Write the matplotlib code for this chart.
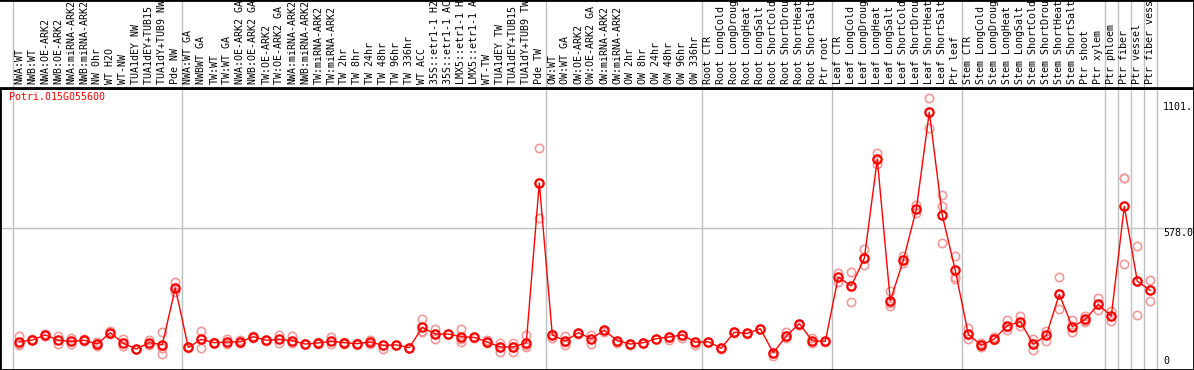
import matplotlib
matplotlib.use("Agg")
import matplotlib.pyplot as plt
import matplotlib.transforms as mtransforms

gene = "Potri.015G055600"

labels = [
    "NWA:WT", "NWB:WT", "NWA:OE-ARK2", "NWB:OE-ARK2", "NWA:miRNA-ARK2", "NWB:miRNA-ARK2",
    "NW 0hr", "WT H2O", "WT-NW", "TUA1dEY NW", "TUA1dEY+TUB15 NW", "TUA1dY+TUB9 NW", "Pde NW",
    "NWA:WT GA", "NWBWT GA", "TW:WT", "TW:WT GA", "NWA:OE-ARK2 GA", "NWB:OE-ARK2 GA",
    "TW:OE-ARK2", "TW:OE-ARK2 GA", "NWA:miRNA-ARK2", "NWB:miRNA-ARK2", "TW:miRNA-ARK2",
    "TW:miRNA-ARK2", "TW 2hr", "TW 8hr", "TW 24hr", "TW 48hr", "TW 96hr", "TW 336hr", "WT ACC",
    "35S::etr1-1 H2O", "35S::etr1-1 ACC", "LMX5::etr1-1 H2O", "LMX5::etr1-1 ACC", "WT-TW",
    "TUA1dEY TW", "TUA1dEY+TUB15 TW", "TUA1dY+TUB9 TW", "Pde TW",
    "OW:WT", "OW:WT GA", "OW:OE-ARK2", "OW:OE-ARK2 GA", "OW:miRNA-ARK2", "OW:miRNA-ARK2",
    "OW 2hr", "OW 8hr", "OW 24hr", "OW 48hr", "OW 96hr", "OW 336hr",
    "Root CTR", "Root LongCold", "Root LongDrought", "Root LongHeat", "Root LongSalt",
    "Root ShortCold", "Root ShortDrought", "Root ShortHeat", "Root ShortSalt", "Ptr root",
    "Leaf CTR", "Leaf LongCold", "Leaf LongDrought", "Leaf LongHeat", "Leaf LongSalt",
    "Leaf ShortCold", "Leaf ShortDrought", "Leaf ShortHeat", "Leaf ShortSalt", "Ptr leaf",
    "Stem CTR", "Stem LongCold", "Stem LongDrought", "Stem LongHeat", "Stem LongSalt",
    "Stem ShortCold", "Stem ShortDrought", "Stem ShortHeat", "Stem ShortSalt", "Ptr shoot",
    "Ptr xylem", "Ptr phloem", "Ptr fiber", "Ptr vessel", "Ptr fiber vessel",
]

# number of samples in each separated block
group_sizes = [13, 28, 12, 10, 10, 11, 1, 1, 1, 1]

means = [
    64, 72, 95, 71, 66, 71, 54, 105, 57, 32, 60, 51, 307,
    39, 75, 60, 63, 64, 87, 71, 75, 69, 54, 59, 66, 60, 56, 63, 48, 50, 38, 129, 99, 99,
    87, 84, 63, 41, 41, 60, 780,
    95, 68, 105, 78, 116, 69, 54, 60, 78, 86, 95, 63,
    64, 35, 107, 102, 123, 15, 90, 146, 69, 66,
    356, 316, 440, 887, 249, 431, 661, 1099, 634, 386,
    98, 48, 77, 137, 155, 53, 93, 278, 132, 165, 233,
    180, 675, 337, 296,
]

replicates = [
    [92, 54, 50], [75, 70], [98, 92], [90, 54], [80, 55], [76, 68], [63, 45], [114, 100],
    [78, 46], [32, 30], [72, 50], [107, 9, 37], [335, 305, 290],
    [39, 36], [113, 37, 75], [62, 58], [75, 55], [70, 60], [90, 80], [71, 68], [95, 57],
    [90, 60], [54, 52], [62, 56], [87, 55], [64, 56], [58, 52], [72, 55], [48, 30], [50, 48],
    [38, 36], [167, 112, 108], [123, 99, 78], [99, 100], [122, 75, 65], [84, 80], [70, 57],
    [60, 41, 20], [60, 41, 20], [95, 50, 40], [938, 780, 622],
    [100, 95, 80], [92, 62, 50], [105, 100], [95, 52], [118, 110], [69, 60], [54, 50],
    [60, 58], [78, 75], [86, 72], [95, 80], [63, 48],
    [64, 62], [35, 33], [107, 104], [102, 98], [123, 120], [15, 0], [110, 90, 80],
    [146, 140], [79, 57], [66, 64],
    [373, 334], [380, 316, 243], [481, 440, 410], [914, 887, 866], [292, 240, 227],
    [452, 431, 418], [681, 661, 643], [1162, 1101, 1027], [726, 676, 511], [451, 358, 349],
    [125, 98, 77], [58, 48, 39], [85, 70], [162, 132, 118], [182, 155, 137], [78, 53, 27],
    [114, 93, 69], [355, 278, 210], [162, 132, 110], [180, 160, 155], [260, 233, 207],
    [201, 180, 158], [804, 804, 415], [496, 337, 183], [343, 296, 248],
]

ytick_vals = [0, 578.0, 1101]
ytick_text = ["0", "578.0", "1101."]

W, H = 1194, 370
head_h = 88
mono = "DejaVu Sans Mono"
fs = 7.2
grid_c = "#c0c0c0"

fig = plt.figure(figsize=(W / 100, H / 100), dpi=100)
ax = fig.add_axes([0, 0, 1, (H - head_h) / H])
axh = fig.add_axes([0, (H - head_h) / H, 1, head_h / H])

x = list(range(len(means)))
xlim = (-19.3 / 13, (W - 19.3) / 13)
for a in (ax, axh):
    a.set_xlim(*xlim)
    a.set_xticks([])
    a.set_yticks([])
    for s in a.spines.values():
        s.set_color("black")
        s.set_linewidth(2)
axh.spines["left"].set_visible(False)
ax.set_ylim(-63, 1208)
axh.set_ylim(0, 1)

# block separators
edges = [-0.5]
for g in group_sizes:
    edges.append(edges[-1] + g)
for e in edges:
    ax.axvline(e, color=grid_c, lw=1, zorder=0)
    axh.axvline(e, color=grid_c, lw=1, zorder=0)
ax.axhline(578, color=grid_c, lw=1, zorder=0)

# replicates
for i, vals in enumerate(replicates):
    ax.plot([i] * len(vals), vals, "o", ms=6, mfc="none", mec="#f09a9a", mew=1.2, zorder=2)

ax.plot(x, means, color="red", lw=1, zorder=3)
ax.plot(x, means, "o", ms=6, mfc="none", mec="red", mew=1.6, zorder=4)

for i, lab in enumerate(labels):
    axh.text(i, 4 / head_h, lab, rotation=90, ha="center", va="bottom",
             family=mono, fontsize=fs, clip_on=True)

ax.text(9 / W, 1 - 4 / (H - head_h), gene, color="red", transform=ax.transAxes,
        ha="left", va="top", family=mono, fontsize=fs)

tr = mtransforms.blended_transform_factory(ax.transAxes, ax.transData)
for v, t in zip(ytick_vals, ytick_text):
    ax.text(1163 / W, v, t, transform=tr, ha="left",
            va="bottom" if v == max(ytick_vals) else "top",
            family=mono, fontsize=fs)

fig.savefig("out.png", dpi=100)
